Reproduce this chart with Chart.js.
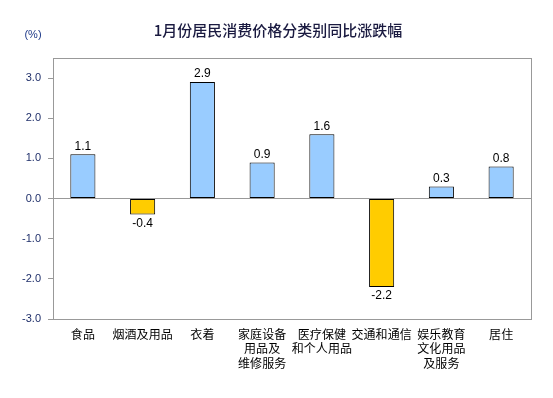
<!DOCTYPE html>
<html><head><meta charset="utf-8">
<script src="https://cdn.jsdelivr.net/npm/chart.js@4/dist/chart.umd.min.js"></script>
<style>html,body{margin:0;padding:0;background:#fff}#wrap{width:553px;height:398px}</style>
</head><body><div id="wrap"><canvas id="c"></canvas></div>
<script>
const titleText = '1月份居民消费价格分类别同比涨跌幅';
const unitText = '(%)';
const categories = [['食品'], ['烟酒及用品'], ['衣着'], ['家庭设备','用品及','维修服务'], ['医疗保健','和个人用品'], ['交通和通信'], ['娱乐教育','文化用品','及服务'], ['居住']];
const values = [1.1, -0.4, 2.9, 0.9, 1.6, -2.2, 0.3, 0.8];
const yTicks = [-3, -2, -1, 0, 1, 2, 3];
const yMin = -3, yMax = 3.5;

const cjk = '"Noto Sans CJK SC", "Liberation Sans", Arial, sans-serif';
const overlay = {
  id: 'overlay',
  beforeDraw(chart) {
    const {ctx} = chart;
    ctx.save();
    ctx.fillStyle = '#fff';
    ctx.fillRect(0, 0, chart.width, chart.height);
    ctx.restore();
  },
  afterDraw(chart) {
    const {ctx, chartArea: a} = chart;
    ctx.save();
    ctx.strokeStyle = '#999';
    ctx.lineWidth = 1;
    ctx.strokeRect(Math.round(a.left) + 0.5, Math.round(a.top) + 0.5, Math.round(a.right - a.left), Math.round(a.bottom - a.top));
    ctx.fillStyle = '#1a1a40';
    ctx.font = '500 15px ' + cjk;
    ctx.textAlign = 'center';
    ctx.textBaseline = 'middle';
    ctx.fillText(titleText, 278, 30);
    ctx.font = '11px "Liberation Sans", Arial, sans-serif';
    ctx.fillStyle = '#1f3a8a';
    ctx.fillText(unitText, 33, 35);
    const meta = chart.getDatasetMeta(0);
    ctx.font = '12px "Liberation Sans", Arial, sans-serif';
    ctx.fillStyle = '#000';
    meta.data.forEach((bar, i) => {
      const v = values[i];
      const txt = v.toFixed(1);
      if (v >= 0) ctx.fillText(txt, bar.x, bar.y - 8);
      else ctx.fillText(txt, bar.x, bar.y + 9);
    });
    ctx.restore();
  }
};

new Chart(document.getElementById('c'), {
  type: 'bar',
  data: {
    labels: categories,
    datasets: [{
      data: values,
      backgroundColor: values.map(v => v >= 0 ? '#99CCFF' : '#FFCC00'),
      borderColor: '#000',
      borderWidth: 1,
      borderSkipped: false,
      barPercentage: 0.42,
      categoryPercentage: 1
    }]
  },
  options: {
    responsive: true,
    maintainAspectRatio: false,
    animation: false,
    devicePixelRatio: 1,
    layout: {padding: {top: 58, right: 22, bottom: 0, left: 0}},
    plugins: {legend: {display: false}, title: {display: false}, tooltip: {enabled: false}},
    scales: {
      x: {
        grid: {display: false, drawTicks: false},
        border: {display: true, color: '#999'},
        ticks: {color: '#000', font: {family: cjk, size: 12}, padding: 8, maxRotation: 0, autoSkip: false},
        afterFit(s) { s.height = 79; }
      },
      y: {
        min: yMin, max: yMax,
        afterBuildTicks(s) { s.ticks = yTicks.map(v => ({value: v})); },
        grid: {
          drawOnChartArea: true,
          color: c => (c.tick && c.tick.value === 0) ? '#999' : 'rgba(0,0,0,0)',
          tickColor: '#999', tickLength: 5, lineWidth: 1
        },
        border: {display: true, color: '#999'},
        ticks: {
          color: '#1f2f6a', padding: 7,
          font: {family: '"Liberation Sans", Arial, sans-serif', size: 11},
          callback: v => Number(v).toFixed(1)
        },
        afterFit(s) { s.width = 53; }
      }
    }
  },
  plugins: [overlay]
});
</script></body></html>
